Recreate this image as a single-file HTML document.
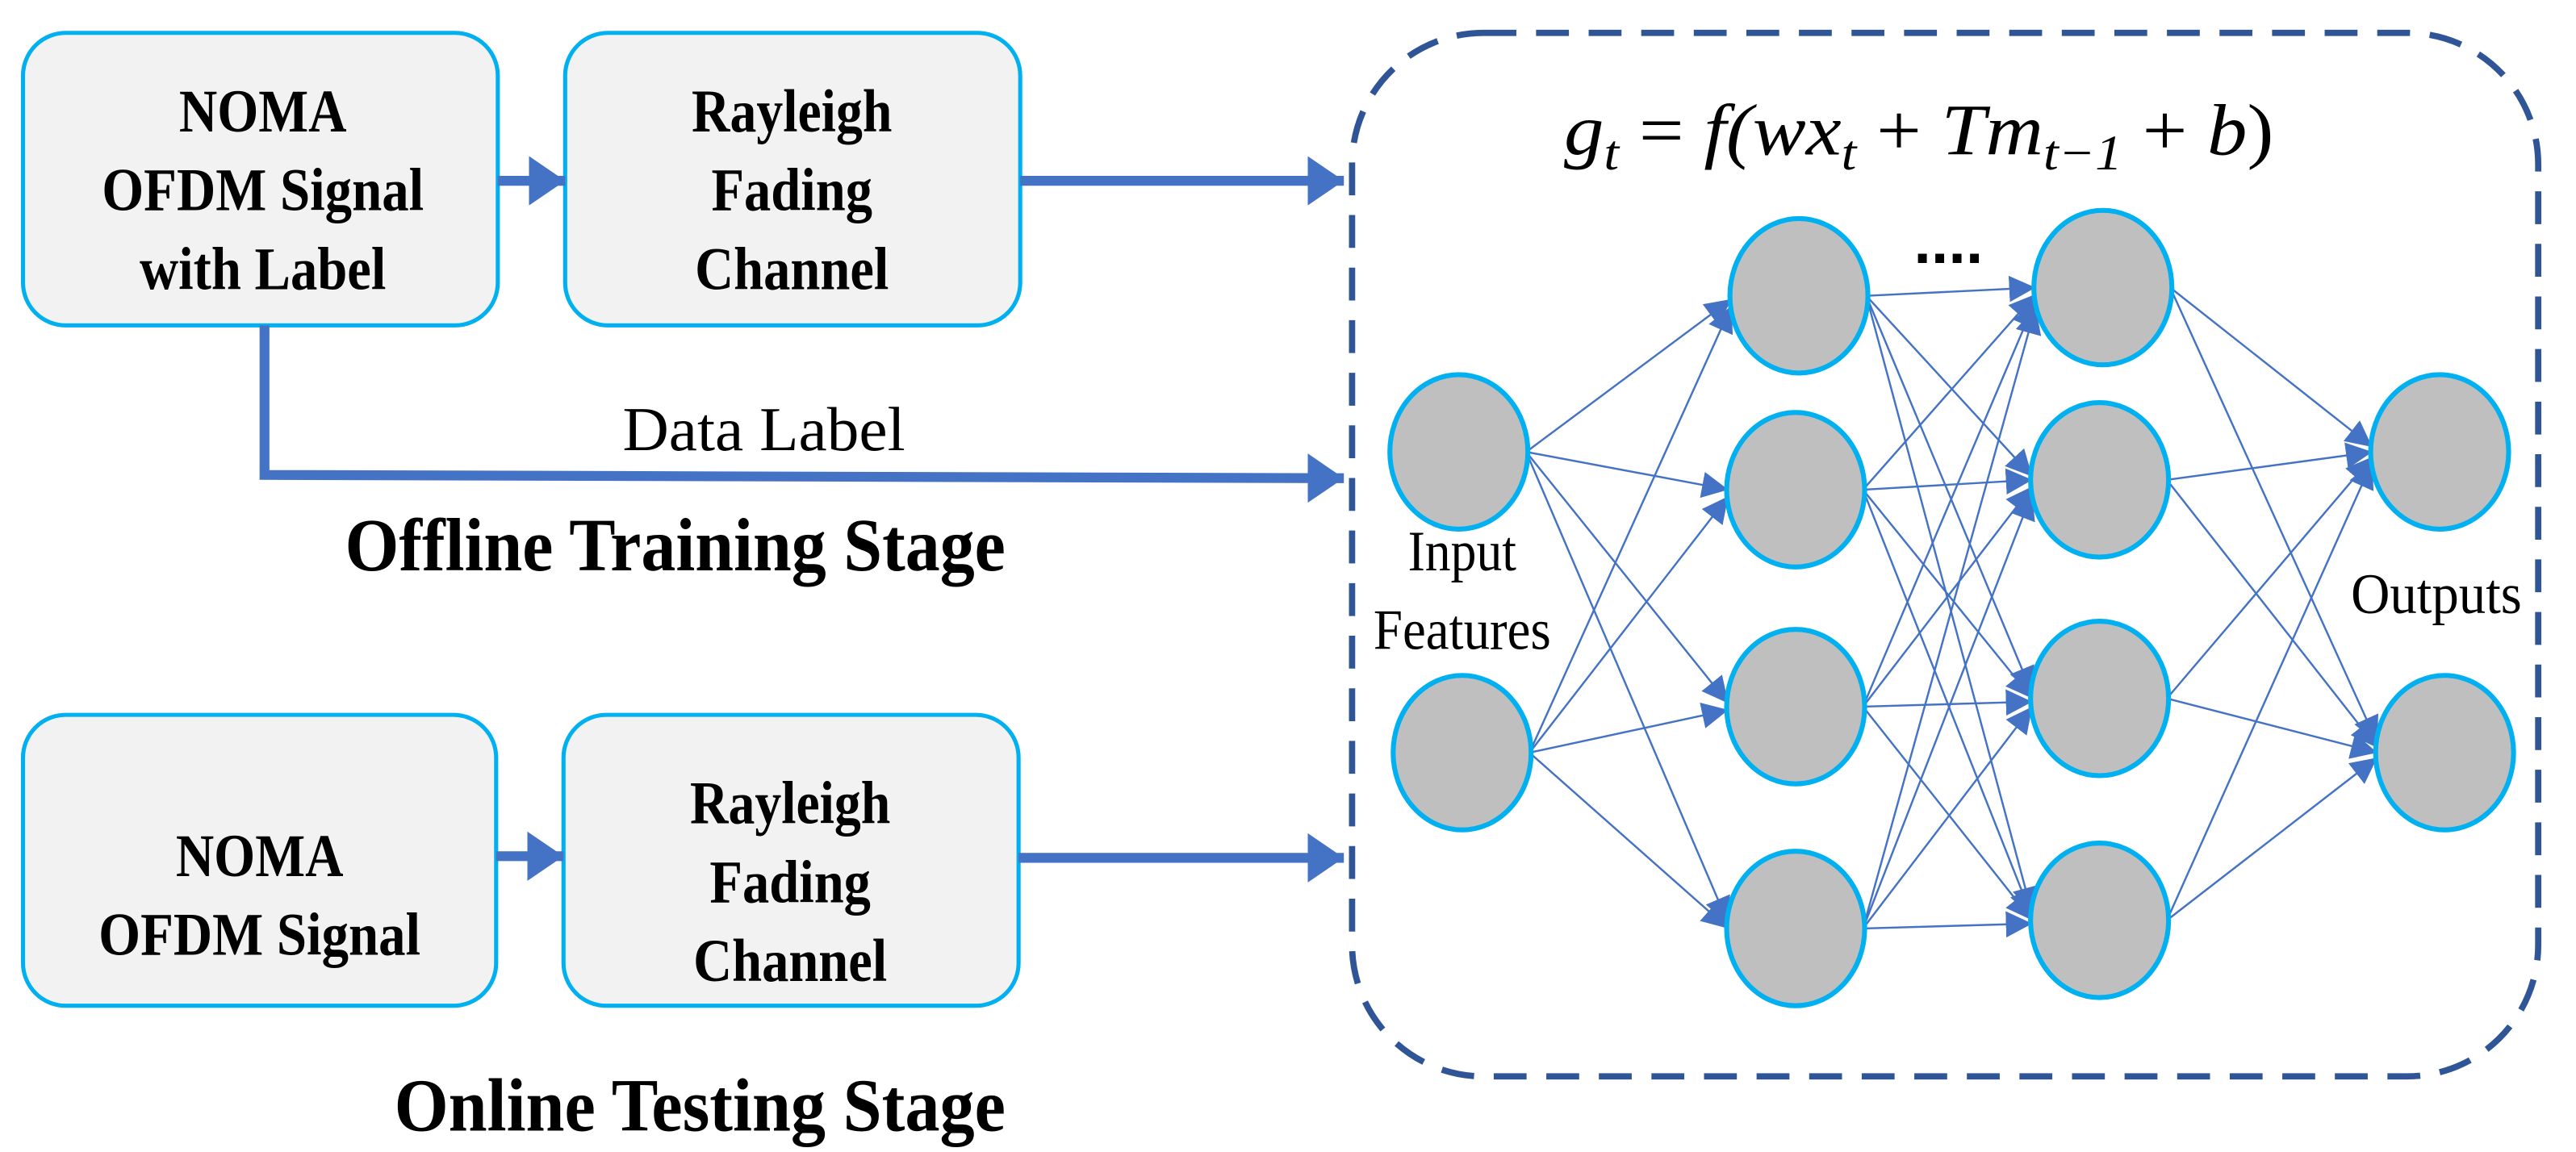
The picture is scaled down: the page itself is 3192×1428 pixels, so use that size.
<!DOCTYPE html>
<html><head><meta charset="utf-8"><style>html,body{margin:0;padding:0;background:#fff}svg{display:block}</style></head>
<body>
<svg width="3192" height="1428" viewBox="0 0 1568 701" preserveAspectRatio="none" xmlns="http://www.w3.org/2000/svg">
<defs>
<marker id="big" markerUnits="userSpaceOnUse" markerWidth="24" markerHeight="30" refX="22" refY="15" orient="auto"><path d="M0,0 L22,15 L0,30 Z" fill="#4472C4"/></marker>
<marker id="sm" markerUnits="userSpaceOnUse" markerWidth="18" markerHeight="16" refX="16" refY="8" orient="auto"><path d="M0,0 L16,8 L0,16 Z" fill="#4472C4"/></marker>
</defs>
<g fill="#F2F2F2" stroke="#00B0F0" stroke-width="2.5">
<rect x="14" y="20" width="289" height="178" rx="26"/>
<rect x="344" y="20" width="277" height="178" rx="26"/>
<rect x="14" y="435" width="288" height="177" rx="26"/>
<rect x="343" y="435" width="277" height="177" rx="26"/>
</g>
<g font-family="Liberation Serif, serif" font-weight="bold" font-size="37" text-anchor="middle" fill="#000">
<text x="160" y="80" textLength="102" lengthAdjust="spacingAndGlyphs">NOMA</text>
<text x="160" y="128" textLength="196" lengthAdjust="spacingAndGlyphs">OFDM Signal</text>
<text x="160" y="176" textLength="150" lengthAdjust="spacingAndGlyphs">with Label</text>
<text x="482" y="80" textLength="122" lengthAdjust="spacingAndGlyphs">Rayleigh</text>
<text x="482" y="128" textLength="98" lengthAdjust="spacingAndGlyphs">Fading</text>
<text x="482" y="176" textLength="118" lengthAdjust="spacingAndGlyphs">Channel</text>
<text x="158" y="533" textLength="102" lengthAdjust="spacingAndGlyphs">NOMA</text>
<text x="158" y="581" textLength="196" lengthAdjust="spacingAndGlyphs">OFDM Signal</text>
<text x="481" y="501" textLength="122" lengthAdjust="spacingAndGlyphs">Rayleigh</text>
<text x="481" y="549" textLength="98" lengthAdjust="spacingAndGlyphs">Fading</text>
<text x="481" y="597" textLength="118" lengthAdjust="spacingAndGlyphs">Channel</text>
<text x="411" y="347" font-size="46" textLength="402" lengthAdjust="spacingAndGlyphs">Offline Training Stage</text>
<text x="426" y="688" font-size="46" textLength="372" lengthAdjust="spacingAndGlyphs">Online Testing Stage</text>
</g>
<text x="465" y="274" font-family="Liberation Serif, serif" font-size="38" text-anchor="middle" textLength="172" lengthAdjust="spacingAndGlyphs">Data Label</text>
<g stroke="#4472C4" stroke-width="6" fill="none">
<line x1="303" y1="110" x2="344" y2="110" marker-end="url(#big)"/>
<line x1="621" y1="110" x2="818" y2="110" marker-end="url(#big)"/>
<polyline points="161,198 161,289 818,291" marker-end="url(#big)"/>
<line x1="302" y1="521" x2="343" y2="521" marker-end="url(#big)"/>
<line x1="620" y1="522" x2="818" y2="522" marker-end="url(#big)"/>
</g>
<rect x="823" y="20" width="722" height="635" rx="80" fill="none" stroke="#2F5597" stroke-width="3.8" stroke-dasharray="20,12"/>
<text x="1168" y="94" font-family="Liberation Serif, serif" font-style="italic" font-size="44" text-anchor="middle" textLength="432" lengthAdjust="spacingAndGlyphs">g<tspan font-size="30" dy="9">t</tspan><tspan dy="-9" font-style="normal"> = </tspan>f(wx<tspan font-size="30" dy="9">t</tspan><tspan dy="-9" font-style="normal"> + </tspan>Tm<tspan font-size="30" dy="9">t−1</tspan><tspan dy="-9" font-style="normal"> + </tspan>b<tspan font-style="normal">)</tspan></text>
<text x="1186" y="160" font-family="Liberation Sans, sans-serif" font-weight="bold" font-size="38" text-anchor="middle">....</text>
<g stroke="#4472C4" stroke-width="1.2" marker-end="url(#sm)">
<line x1="929" y1="275" x2="1054" y2="182"/><line x1="929" y1="275" x2="1052" y2="298"/><line x1="929" y1="275" x2="1052" y2="428"/><line x1="929" y1="275" x2="1052" y2="562"/>
<line x1="931" y1="458" x2="1054" y2="186"/><line x1="931" y1="458" x2="1052" y2="302"/><line x1="931" y1="458" x2="1052" y2="432"/><line x1="931" y1="458" x2="1052" y2="565"/>
<line x1="1136" y1="180" x2="1239" y2="175"/><line x1="1136" y1="180" x2="1237" y2="290"/><line x1="1136" y1="180" x2="1237" y2="422"/><line x1="1136" y1="180" x2="1237" y2="556"/>
<line x1="1134" y1="298" x2="1239" y2="179"/><line x1="1134" y1="298" x2="1237" y2="292"/><line x1="1134" y1="298" x2="1237" y2="425"/><line x1="1134" y1="298" x2="1237" y2="558"/>
<line x1="1134" y1="430" x2="1239" y2="183"/><line x1="1134" y1="430" x2="1237" y2="296"/><line x1="1134" y1="430" x2="1237" y2="427"/><line x1="1134" y1="430" x2="1237" y2="560"/>
<line x1="1134" y1="565" x2="1239" y2="187"/><line x1="1134" y1="565" x2="1237" y2="300"/><line x1="1134" y1="565" x2="1237" y2="430"/><line x1="1134" y1="565" x2="1237" y2="562"/>
<line x1="1321" y1="175" x2="1444" y2="272"/><line x1="1321" y1="175" x2="1447" y2="452"/>
<line x1="1319" y1="292" x2="1444" y2="275"/><line x1="1319" y1="292" x2="1447" y2="455"/>
<line x1="1319" y1="425" x2="1444" y2="278"/><line x1="1319" y1="425" x2="1447" y2="458"/>
<line x1="1319" y1="560" x2="1444" y2="281"/><line x1="1319" y1="560" x2="1447" y2="461"/>
</g>
<g fill="#BFBFBF" stroke="#00B0F0" stroke-width="3">
<ellipse cx="888" cy="275" rx="42" ry="47"/><ellipse cx="890" cy="458" rx="42" ry="47"/>
<ellipse cx="1095" cy="180" rx="42" ry="47"/><ellipse cx="1093" cy="298" rx="42" ry="47"/><ellipse cx="1093" cy="430" rx="42" ry="47"/><ellipse cx="1093" cy="565" rx="42" ry="47"/>
<ellipse cx="1280" cy="175" rx="42" ry="47"/><ellipse cx="1278" cy="292" rx="42" ry="47"/><ellipse cx="1278" cy="425" rx="42" ry="47"/><ellipse cx="1278" cy="560" rx="42" ry="47"/>
<ellipse cx="1485" cy="275" rx="42" ry="47"/><ellipse cx="1488" cy="458" rx="42" ry="47"/>
</g>
<g font-family="Liberation Serif, serif" font-size="35" text-anchor="middle">
<text x="890" y="347" textLength="66" lengthAdjust="spacingAndGlyphs">Input</text>
<text x="890" y="395" textLength="108" lengthAdjust="spacingAndGlyphs">Features</text>
<text x="1483" y="373" textLength="104" lengthAdjust="spacingAndGlyphs">Outputs</text>
</g>
</svg>
</body></html>
